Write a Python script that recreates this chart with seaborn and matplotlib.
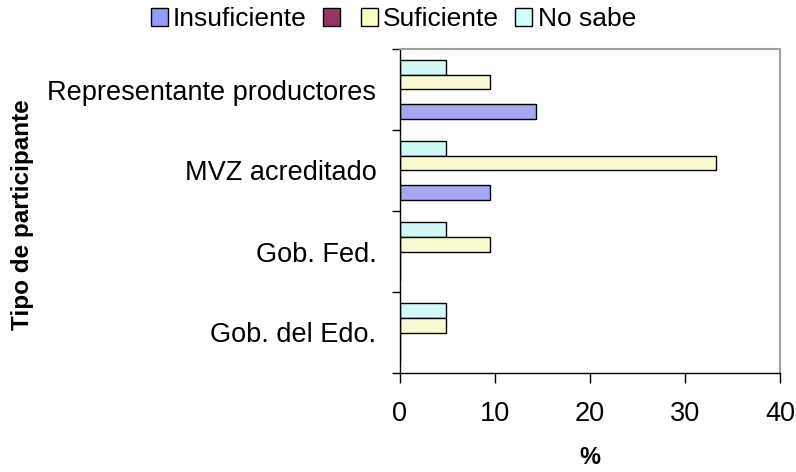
import pandas as pd
import seaborn as sns
import matplotlib.pyplot as plt
from matplotlib.patches import Patch

# Data (percent of participants)
tipos = ['Representante productores', 'MVZ acreditado', 'Gob. Fed.', 'Gob. del Edo.']
series = ['Insuficiente', 'Sin respuesta', 'Suficiente', 'No sabe']
legend_labels = ['Insuficiente', '', 'Suficiente', 'No sabe']
insuficiente = [14.3, 9.5, 0, 0]
sin_respuesta = [0, 0, 0, 0]
suficiente = [9.5, 33.3, 9.5, 4.8]
no_sabe = [4.8, 4.8, 4.8, 4.8]
colores = ['#9999FF', '#993366', '#FFFFCC', '#CCFFFF']

valores = [insuficiente, sin_respuesta, suficiente, no_sabe]
df = pd.DataFrame({
    'Tipo': [t for _ in series for t in tipos],
    'Serie': [s for s in series for _ in tipos],
    'Valor': [v for vals in valores for v in vals],
})
palette = dict(zip(series, colores))

sns.set_theme(style='white')
plt.rcParams['font.family'] = ['Liberation Sans', 'DejaVu Sans']
plt.rcParams['text.color'] = 'black'
plt.rcParams['axes.labelcolor'] = 'black'
plt.rcParams['xtick.color'] = 'black'
plt.rcParams['ytick.color'] = 'black'

fig = plt.figure(figsize=(7.96, 4.72), dpi=100)
ax = fig.add_axes([400 / 796, 1 - 373 / 472, 380 / 796, (373 - 49) / 472])

# Excel draws the first series at the bottom of each group
sns.barplot(data=df, x='Valor', y='Tipo', hue='Serie', order=tipos,
            hue_order=series[::-1], palette=palette, orient='h',
            width=0.73, edgecolor='black', linewidth=1, legend=False,
            errorbar=None, ax=ax)

ax.set_xlim(0, 40)
ax.set_xticks([0, 10, 20, 30, 40])
ax.set_ylim(3.5, -0.5)
ax.set_yticks(range(len(tipos)))
ax.set_yticklabels(tipos)
ax.set_yticks([i - 0.5 for i in range(len(tipos) + 1)], minor=True)
ax.tick_params(axis='y', which='major', length=0, pad=17, labelsize=19.5)
ax.tick_params(axis='y', which='minor', length=6, width=1, left=True)
ax.tick_params(axis='x', length=7, width=1, bottom=True, pad=13, labelsize=19.5)

ax.set_xlabel('%', fontsize=17, fontweight='bold', labelpad=14)
ax.set_ylabel('Tipo de participante', fontsize=17.5, fontweight='bold')
ax.yaxis.set_label_coords((34 - 400) / 380, 0.49)

for side in ['left', 'bottom']:
    ax.spines[side].set_color('black')
    ax.spines[side].set_linewidth(1)
for side in ['top', 'right']:
    ax.spines[side].set_color('#A0A0A0')
    ax.spines[side].set_linewidth(1.5)

handles = [Patch(facecolor=c, edgecolor='black', linewidth=1) for c in colores]
fig.legend(handles, legend_labels, loc='upper center', bbox_to_anchor=(0.494, 1.035),
           ncol=4, frameon=False, fontsize=19, handlelength=0.65,
           handleheight=0.65, handletextpad=0.2, columnspacing=0.6)

plt.savefig('out.png', dpi=100)
